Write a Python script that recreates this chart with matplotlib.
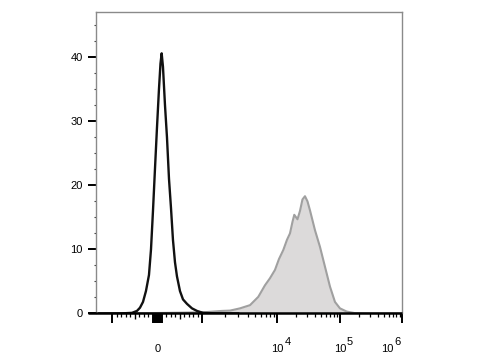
import numpy as np
import matplotlib
matplotlib.use('Agg')
import matplotlib.pyplot as plt
from matplotlib.ticker import MultipleLocator, FixedLocator, NullFormatter
import matplotlib.transforms as mtransforms

plt.rcParams['font.family'] = ['Liberation Sans', 'DejaVu Sans']

# 对照 (unstained) - 黑线
black_x = [-1500, -833, -567, -456, -389, -322, -256, -189, -144, -100, -56, -11,
           33, 67, 93, 122, 167, 211, 256, 300, 344, 389, 433, 500, 567, 656,
           767, 878, 1015, 1470, 3000]
black_y = [0, 0, 0.1, 0.4, 0.9, 1.8, 3.5, 6.0, 10, 16, 22.5, 29,
           35, 39, 40.6, 38.5, 32.5, 27.5, 21, 16.5, 11.5, 8, 5.8, 3.5, 2.2, 1.5,
           0.8, 0.4, 0.1, 0.03, 0]

# 染色样本 - 灰色填充
gray_x = [-1500, -300, 280, 720, 1080, 1380, 1820, 2330, 3160, 4300, 5550, 6810,
          7940, 9260, 10570, 12380, 14190, 15850, 17380, 18570, 20890, 22910,
          25120, 27540, 30200, 33110, 39810, 47860, 57540, 69180, 83180, 100000,
          128000, 173800, 302000, 1000000]
gray_y = [0, 0.05, 0.1, 0.15, 0.2, 0.3, 0.4, 0.45, 0.8, 1.3, 2.6, 4.4,
          5.5, 6.8, 8.5, 9.9, 11.5, 12.5, 14.3, 15.4, 14.7, 16.0,
          17.8, 18.3, 17.5, 16.1, 13.0, 10.4, 7.3, 4.2, 1.8, 0.8,
          0.3, 0.05, 0, 0]

y_major = [0, 10, 20, 30, 40]
x_major = [-1000, -100, -80, -60, -40, -20, 0, 20, 40, 60, 80, 100, 1000, 1e4, 1e5, 1e6]
x_medium = [-500, 500]
x_minor = ([-v for v in range(200, 1000, 100) if v != 500] +
           [v for v in range(200, 1000, 100) if v != 500] +
           [k * 10 ** e for e in (3, 4, 5) for k in range(2, 10)])
x_labels = [(0, '0', None), (1e4, '10', '4'), (1e5, '10', '5'), (1e6, '10', '6')]


def _fwd(v):
    v = np.asarray(v, dtype=float)
    a = np.abs(v)
    with np.errstate(divide='ignore', invalid='ignore'):
        la = np.log10(np.maximum(a, 1e-12))
    lo = a * 45 / 1000
    mid = 45 + 75 * (la - 3)
    hi = 120 + 62.5 * (la - 4)
    t = np.where(a <= 1e3, lo, np.where(a <= 1e4, mid, hi))
    return np.sign(v) * t


def _inv(t):
    t = np.asarray(t, dtype=float)
    a = np.clip(np.abs(t), 0, 2000)
    lo = a * 1000 / 45
    mid = 1e3 * 10 ** ((a - 45) / 75)
    hi = 1e4 * 10 ** ((a - 120) / 62.5)
    v = np.where(a <= 45, lo, np.where(a <= 120, mid, hi))
    return np.sign(t) * v


fig = plt.figure(figsize=(4.8, 3.6), dpi=100)
ax = fig.add_axes([0.2010, 0.1292, 0.6375, 0.8375])
ax.set_xscale('function', functions=(_fwd, _inv))

ax.fill_between(gray_x, gray_y, 0, color='#dcdada', lw=0, zorder=1)
ax.plot(gray_x, gray_y, color='#a0a0a0', lw=1.5, zorder=2)
ax.plot(black_x, black_y, color='#111111', lw=1.7, zorder=3)

ax.set_xlim(-1634, 1e6)
ax.set_ylim(0, 47.05)

for side in ('left', 'top', 'right'):
    ax.spines[side].set_color('#8a8a8a')
    ax.spines[side].set_linewidth(1.0)
ax.spines['bottom'].set_visible(False)
# 底部轴线向左伸出
ax.plot([-0.028, 1.0], [0, 0], transform=ax.transAxes, color='black',
        lw=1.8, clip_on=False, zorder=5, solid_capstyle='butt')

ax.yaxis.set_major_locator(FixedLocator(y_major))
ax.yaxis.set_minor_locator(MultipleLocator(2.5))
ax.tick_params(axis='y', which='major', length=5.5, width=1.4, color='black',
               labelsize=8, pad=4.5)
ax.tick_params(axis='y', which='minor', length=1.8, width=0.8, color='#444444')

ax.xaxis.set_major_locator(FixedLocator(x_major))
ax.xaxis.set_minor_locator(FixedLocator(x_minor))
ax.xaxis.set_major_formatter(NullFormatter())
ax.xaxis.set_minor_formatter(NullFormatter())
ax.tick_params(axis='x', which='major', length=7, width=1.4, color='black')
ax.tick_params(axis='x', which='minor', length=3, width=0.9, color='black')

trans = mtransforms.blended_transform_factory(ax.transData, ax.transAxes)
ax.plot(x_medium, [0] * len(x_medium), ls='none', marker=3, markersize=4.5,
        markeredgewidth=1.0, color='black', transform=trans, clip_on=False)

for val, base, exp in x_labels:
    dx = -11 if val == 1e6 else 0
    ax.annotate(base, xy=(val, 0), xycoords=trans, xytext=(dx, -27.5),
                textcoords='offset points', ha='center', va='baseline',
                fontsize=8, annotation_clip=False)
    if exp:
        ax.annotate(exp, xy=(val, 0), xycoords=trans, xytext=(dx + 5, -22.7),
                    textcoords='offset points', ha='left', va='baseline',
                    fontsize=8, annotation_clip=False)

fig.savefig('out.png', dpi=100)
